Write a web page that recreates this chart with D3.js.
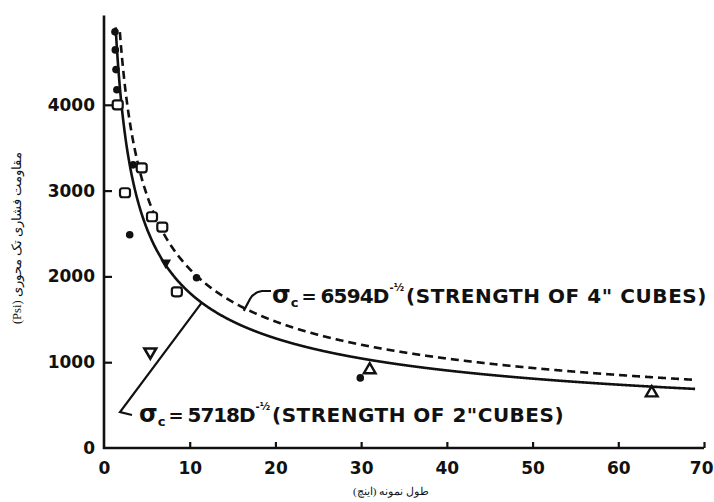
<!DOCTYPE html>
<html>
<head>
<meta charset="utf-8">
<script src="https://cdn.jsdelivr.net/npm/d3@7"></script>
<style>
  body { margin: 0; background: #fff; }
  svg { display: block; }
</style>
</head>
<body>
<svg id="chart" width="714" height="502"></svg>
<script>
// Axis ticks
const xTicks = [0, 10, 20, 30, 40, 50, 60, 70];
const yTicks = [0, 1000, 2000, 3000, 4000];

// Fitted strength curves: sigma_c = k * D^(-1/2)
const coefTwoInch = 5718;   // strength of 2" cubes (solid)
const coefFourInch = 6594;  // strength of 4" cubes (dashed)

// Test results: specimen length D (in) and strength (psi)
const dotD = [1.28, 1.32, 1.4, 1.5, 3.4, 3.0, 10.8, 29.9];
const dotS = [4850, 4640, 4410, 4175, 3300, 2485, 1985, 817];
const filledTriD = [7.2];
const filledTriS = [2160];
const squareD = [1.6, 4.4, 2.45, 5.6, 6.8, 8.5];
const squareS = [4000, 3265, 2975, 2695, 2575, 1820];
const triUpD = [31.0, 63.9];
const triUpS = [910, 641];
const triDownD = [5.4];
const triDownS = [1120];

const W = 714, H = 502;
const svg = d3.select("#chart");
svg.append("rect").attr("width", W).attr("height", H).attr("fill", "#fff");

const x = d3.scaleLinear().domain([0, 70]).range([104, 704]);
const y = d3.scaleLinear().domain([0, 5000]).range([448, 19]);

const ink = "#111";
const tickFont = "'DejaVu Sans', 'Liberation Sans', sans-serif";

// Axes
const gx = svg.append("g").attr("transform", `translate(0,${y(0)})`)
  .call(d3.axisBottom(x).tickValues(xTicks).tickFormat(d3.format("d"))
    .tickSize(-6).tickPadding(14).tickSizeOuter(0));
const gy = svg.append("g").attr("transform", `translate(${x(0)},0)`)
  .call(d3.axisLeft(y).tickValues(yTicks).tickFormat(d3.format("d"))
    .tickSize(-8).tickPadding(9).tickSizeOuter(0));

[gx, gy].forEach(g => {
  g.select(".domain").remove();
  g.selectAll(".tick line").attr("stroke", ink).attr("stroke-width", 2.2);
  g.selectAll(".tick text")
    .attr("fill", ink)
    .attr("font-family", tickFont)
    .attr("font-weight", "bold")
    .attr("font-size", 17);
});
gx.selectAll(".tick").filter(d => d === 0).select("line").remove();
gy.selectAll(".tick").filter(d => d === 0).select("line").remove();
// keep the last x label inside the page edge
gx.selectAll(".tick").filter(d => d === 70).select("text")
  .attr("text-anchor", "end").attr("x", W - x(70) - 1);

// Axis lines
svg.append("line").attr("x1", x(0)).attr("x2", x(0)).attr("y1", y(0) + 1).attr("y2", y(5040))
  .attr("stroke", ink).attr("stroke-width", 2.6);
svg.append("line").attr("x1", x(0) - 1).attr("x2", x(70)).attr("y1", y(0)).attr("y2", y(0))
  .attr("stroke", ink).attr("stroke-width", 2.6);

// Curves
const curve = k => D => k / Math.sqrt(D);
const line = fn => d3.line().x(d => x(d)).y(d => y(fn(d))).curve(d3.curveMonotoneX);
const dsSolid = d3.range(1.36, 69.01, 0.05);
const dsDash = d3.range(1.85, 69.01, 0.05);

svg.append("path").datum(dsSolid)
  .attr("d", line(curve(coefTwoInch)))
  .attr("fill", "none").attr("stroke", ink).attr("stroke-width", 2.6);
svg.append("path").datum(dsDash)
  .attr("d", line(curve(coefFourInch)))
  .attr("fill", "none").attr("stroke", ink).attr("stroke-width", 2.6)
  .attr("stroke-dasharray", "8,5");

// Markers
const mk = svg.append("g");
mk.selectAll("circle.dot").data(d3.zip(dotD, dotS)).join("circle")
  .attr("class", "dot")
  .attr("cx", d => x(d[0])).attr("cy", d => y(d[1])).attr("r", 3.8)
  .attr("fill", ink);

mk.selectAll("rect.sq").data(d3.zip(squareD, squareS)).join("rect")
  .attr("class", "sq")
  .attr("x", d => x(d[0]) - 5).attr("y", d => y(d[1]) - 4.5)
  .attr("width", 10).attr("height", 9).attr("rx", 2.5)
  .attr("fill", "#fff").attr("stroke", ink).attr("stroke-width", 2.2);

const tri = d3.symbol().type(d3.symbolTriangle).size(60);
mk.selectAll("path.tu").data(d3.zip(triUpD, triUpS)).join("path")
  .attr("class", "tu")
  .attr("d", tri)
  .attr("transform", d => `translate(${x(d[0])},${y(d[1])})`)
  .attr("fill", "#fff").attr("stroke", ink).attr("stroke-width", 2.4);
mk.selectAll("path.td").data(d3.zip(triDownD, triDownS)).join("path")
  .attr("class", "td")
  .attr("d", tri)
  .attr("transform", d => `translate(${x(d[0])},${y(d[1])}) rotate(180)`)
  .attr("fill", "#fff").attr("stroke", ink).attr("stroke-width", 2.6);
mk.selectAll("path.tf").data(d3.zip(filledTriD, filledTriS)).join("path")
  .attr("class", "tf")
  .attr("d", d3.symbol().type(d3.symbolTriangle).size(50))
  .attr("transform", d => `translate(${x(d[0])},${y(d[1])}) rotate(180)`)
  .attr("fill", ink);

// Equation labels: each piece is its own text, laid out left to right
const labFont = "'DejaVu Sans', 'Liberation Sans', sans-serif";
function piece(g, x0, base, str, size, targetW) {
  const t = g.append("text")
    .attr("x", x0).attr("y", base)
    .attr("font-family", labFont).attr("font-weight", "bold")
    .attr("font-size", size).attr("fill", ink)
    .text(str);
  let w = t.node().getComputedTextLength();
  if (targetW) {
    t.attr("letter-spacing", (targetW - w) / str.length);
    w = targetW;
  }
  return x0 + w;
}
function equation(g, x0, base, coef, tail, coefW, tailW) {
  let cx = piece(g, x0, base, "σ", 24);
  cx = piece(g, cx, base + 4, "c", 13) + 3;
  cx = piece(g, cx, base, "=", 18) + 4;
  cx = piece(g, cx, base, coef + "D", 20, coefW) + 1;
  cx = piece(g, cx, base - 12, "-½", 10) + 2;
  piece(g, cx, base, tail, 20, tailW);
}
const ann = svg.append("g");
equation(ann, 272, 303, coefFourInch, "(STRENGTH OF 4\" CUBES)", 68, 301);
equation(ann, 139, 422, coefTwoInch, "(STRENGTH OF 2\"CUBES)", 67, 292);

// Leader lines
const dTip = 11.4;
ann.append("path")
  .attr("d", `M${x(dTip)},${y(coefTwoInch / Math.sqrt(dTip))} L120,412 L132,415`)
  .attr("fill", "none").attr("stroke", ink).attr("stroke-width", 2.2);
const dHook = 16.3;
ann.append("path")
  .attr("d", `M${x(dHook)},${y(coefFourInch / Math.sqrt(dHook)) + 3} L250,299 Q254,292 262,291 L271,291`)
  .attr("fill", "none").attr("stroke", ink).attr("stroke-width", 2.2);

// Axis titles
svg.append("text")
  .attr("transform", `translate(21,238) rotate(-90)`)
  .attr("text-anchor", "middle")
  .attr("font-family", "'Liberation Serif', 'DejaVu Serif', serif")
  .attr("font-size", 12.5).attr("fill", ink)
  .text("(Psi) مقاومت فشاری تک محوری");
svg.append("text")
  .attr("x", 391).attr("y", 495)
  .attr("text-anchor", "middle")
  .attr("font-family", "'Liberation Serif', 'DejaVu Serif', serif")
  .attr("font-size", 11).attr("fill", ink)
  .text("طول نمونه (اینچ)");
</script>
</body>
</html>
